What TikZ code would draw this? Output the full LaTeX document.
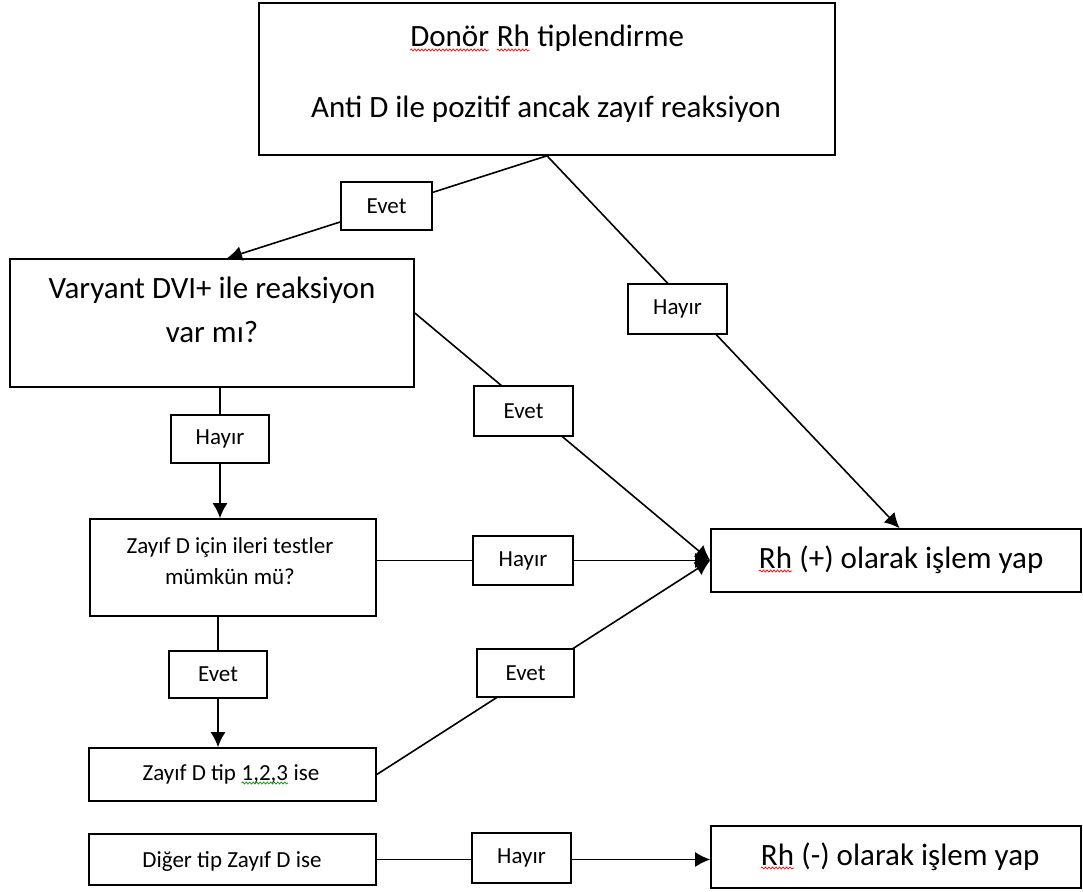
\documentclass[tikz,border=0pt]{standalone}
\usepackage{fontspec}
\setmainfont{Carlito}
\usetikzlibrary{arrows.meta,decorations.pathmorphing,backgrounds}
\newcommand\wavy[2]{\tikz[baseline=(w.base)]{\node[draw=none,fill=none,inner sep=0pt,outer sep=0pt,minimum width=0pt,minimum height=0pt,anchor=base,rectangle] (w) {#2};\draw[#1,line width=0.7pt,decorate,decoration={snake,amplitude=1pt,segment length=3.5pt}] ([yshift=-3pt]w.base west) -- ([yshift=-3pt]w.base east);}}
\tikzset{
  box/.style={draw,line width=1.6pt,rectangle,inner sep=0pt},
  lbl/.style={draw,fill=white,line width=1.6pt,rectangle,minimum width=98pt,minimum height=48pt,inner sep=0pt,font=\fontsize{23}{27}\selectfont},
  big/.style={font=\fontsize{31}{36}\selectfont,anchor=base,inner sep=0pt},
  small/.style={font=\fontsize{23}{27}\selectfont,anchor=base,inner sep=0pt},
  conn/.style={line width=1.6pt},
  arr/.style={conn,-{Latex[length=15pt,width=15pt]}}
}
\begin{document}
\begin{tikzpicture}[x=1pt,y=-1pt]
\useasboundingbox (0,0) rectangle (1083,891);
% main boxes
\node[box,minimum width=576pt,minimum height=152pt] (tb) at (547,79) {};
\node[box,minimum width=404pt,minimum height=128pt] (vb) at (212,323) {};
\node[box,minimum width=286pt,minimum height=97pt] (zi) at (233,567.5) {};
\node[box,minimum width=287pt,minimum height=53pt] (zt) at (232.5,774.5) {};
\node[box,minimum width=287pt,minimum height=51pt] (zd) at (232.5,859.5) {};
\node[box,minimum width=370pt,minimum height=63pt] (rp) at (896,560.5) {};
\node[box,minimum width=370pt,minimum height=62pt] (rm) at (896,857) {};
% texts
\node[big] (t1) at (547,47) {\wavy{red}{Donör} \wavy{red}{Rh} tiplendirme};
\node[big] (t2) at (546,117) {Anti D ile pozitif ancak zayıf reaksiyon};
\node[big] (t3) at (212,298) {Varyant DVI+ ile reaksiyon};
\node[big] (t4) at (212,342) {var mı?};
\node[small] (t5) at (230,553) {Zayıf D için ileri testler};
\node[small] (t6) at (230,584) {mümkün mü?};
\node[small] (t7) at (231,780) {Zayıf D tip \wavy{green!60!black}{1,2,3} ise};
\node[small] (t8) at (232,867) {Diğer tip Zayıf D ise};
\node[big] (t9) at (901,568) {\wavy{red}{Rh} (+) olarak işlem yap};
\node[big] (t10) at (900,865) {\wavy{red}{Rh} (-) olarak işlem yap};
% labels
\node[lbl,minimum width=91pt] (e1) at (386.5,206) {Evet};
\node[lbl,minimum width=99pt,minimum height=50pt] (h1) at (677.5,309) {Hayır};
\node[lbl,minimum width=99pt,minimum height=50pt] (e2) at (523.5,411) {Evet};
\node[lbl] (h2) at (220,439) {Hayır};
\node[lbl,minimum width=100pt,minimum height=49pt] (h3) at (523,560.5) {Hayır};
\node[lbl,minimum height=47pt] (e3) at (218,674.5) {Evet};
\node[lbl,minimum width=97pt] (e4) at (525.5,673) {Evet};
\node[lbl,minimum width=99pt,minimum height=50pt] (h4) at (521.5,858) {Hayır};
% connectors
\begin{pgfonlayer}{background}
\fill[white] (0,0) rectangle (1083,891);
\draw[arr] (tb.south) -- ([xshift=15pt]vb.north);
\draw[arr] (tb.south) -- ([xshift=3.5pt]rp.north);
\draw[arr] ([yshift=10pt]vb.east) -- (rp.west);
\draw[arr] (vb.south -| h2) -- (zi.north -| h2);
\draw[arr] (zi.east |- rp.west) -- (rp.west);
\draw[arr] (zi.south -| e3) -- (zt.north -| e3);
\draw[arr] (zt.east) -- (rp.west);
\draw[arr] (zd.east) -- (zd.east -| rm.west);
\end{pgfonlayer}
\end{tikzpicture}
\end{document}
